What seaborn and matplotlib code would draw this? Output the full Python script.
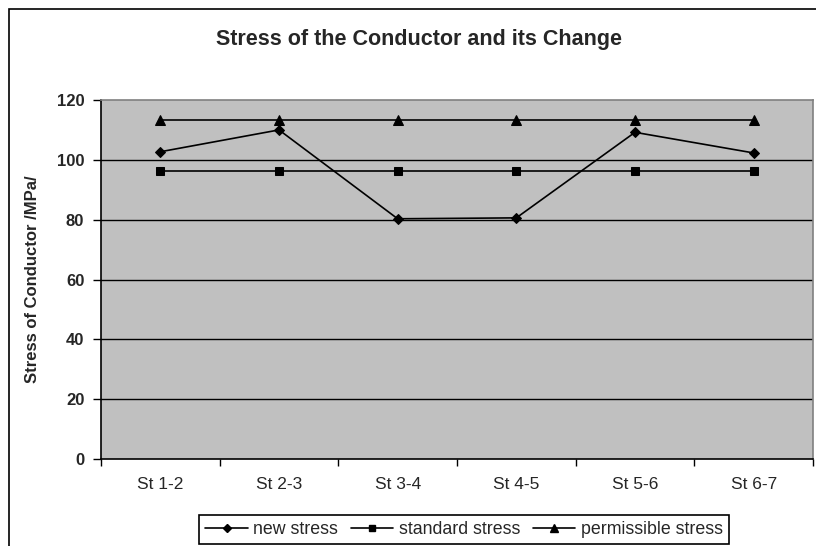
import matplotlib
matplotlib.use("Agg")
import matplotlib.pyplot as plt
import seaborn as sns
import pandas as pd
from matplotlib.patches import Rectangle
from matplotlib.lines import Line2D

categories = ["St 1-2", "St 2-3", "St 3-4", "St 4-5", "St 5-6", "St 6-7"]
new_stress = [102.7, 110.0, 80.3, 80.6, 109.2, 102.3]
standard_stress = [96.3, 96.3, 96.3, 96.3, 96.3, 96.3]
permissible_stress = [113.4, 113.4, 113.4, 113.4, 113.4, 113.4]
y_ticks = [0, 20, 40, 60, 80, 100, 120]

sns.set_theme(style="white")
plt.rcParams['font.family'] = ['Liberation Sans', 'DejaVu Sans']

fig = plt.figure(figsize=(8.16, 5.46), dpi=100)
ax = fig.add_axes([101/816, 1-459/546, (813-101)/816, (459-100)/546])
ax.set_facecolor("#C0C0C0")

pos = list(range(len(categories)))
series = [("new stress", new_stress, "D", 5),
          ("standard stress", standard_stress, "s", 6),
          ("permissible stress", permissible_stress, "^", 7)]

for yv in y_ticks[1:-1]:
    ax.axhline(yv, color="black", lw=1.0, zorder=1)

for name, vals, mk, ms in series:
    df = pd.DataFrame({"x": pos, "y": vals})
    sns.lineplot(data=df, x="x", y="y", ax=ax, color="black", lw=1.2,
                 marker=mk, markersize=ms, markeredgecolor="black",
                 label=name, zorder=3, legend=False)

ax.set_xlim(-0.5, len(categories) - 0.5)
ax.set_ylim(0, 120)
ax.set_yticks(y_ticks)
ax.set_yticklabels([str(v) for v in y_ticks], fontsize=12, fontweight="bold")
ax.set_xticks([i - 0.5 for i in range(len(categories) + 1)])
ax.set_xticklabels([])
ax.set_xticks(pos, minor=True)
ax.set_xticklabels(categories, minor=True, fontsize=12.5)
ax.tick_params(axis="x", which="major", direction="out", length=5, width=1, color="black", bottom=True)
ax.tick_params(axis="x", which="minor", length=0, pad=13)
ax.tick_params(axis="y", direction="out", length=6, width=1, color="black", left=True, pad=6)
ax.set_xlabel("")
ax.set_ylabel("Stress of Conductor /MPa/", fontsize=12, fontweight="bold", labelpad=12)

for s in ["left", "bottom"]:
    ax.spines[s].set_color("black")
    ax.spines[s].set_linewidth(1.2)
for s in ["top", "right"]:
    ax.spines[s].set_color("#808080")
    ax.spines[s].set_linewidth(1.2)

fig.text(419/816, 1-40/546, "Stress of the Conductor and its Change",
         ha="center", va="center", fontsize=15.5, fontweight="bold")

fig.patches.append(Rectangle((9/816, -0.1), 1.2, 1.1 - 9/546, transform=fig.transFigure,
                             fill=False, edgecolor="black", lw=1.2))

handles = [Line2D([], [], color="black", lw=1.2, marker=mk, markersize=ms - 1)
           for _, _, mk, ms in series]
labels = [s[0] for s in series]
leg = fig.legend(handles, labels, loc="upper center", bbox_to_anchor=(464/816, 1-515/546),
                 ncol=3, frameon=True, fancybox=False, edgecolor="black", framealpha=1,
                 fontsize=12.8, handlelength=2.4, handletextpad=0.3, columnspacing=0.7,
                 borderpad=0.35, borderaxespad=0)
leg.get_frame().set_linewidth(1.2)

fig.savefig("out.png", dpi=100)
